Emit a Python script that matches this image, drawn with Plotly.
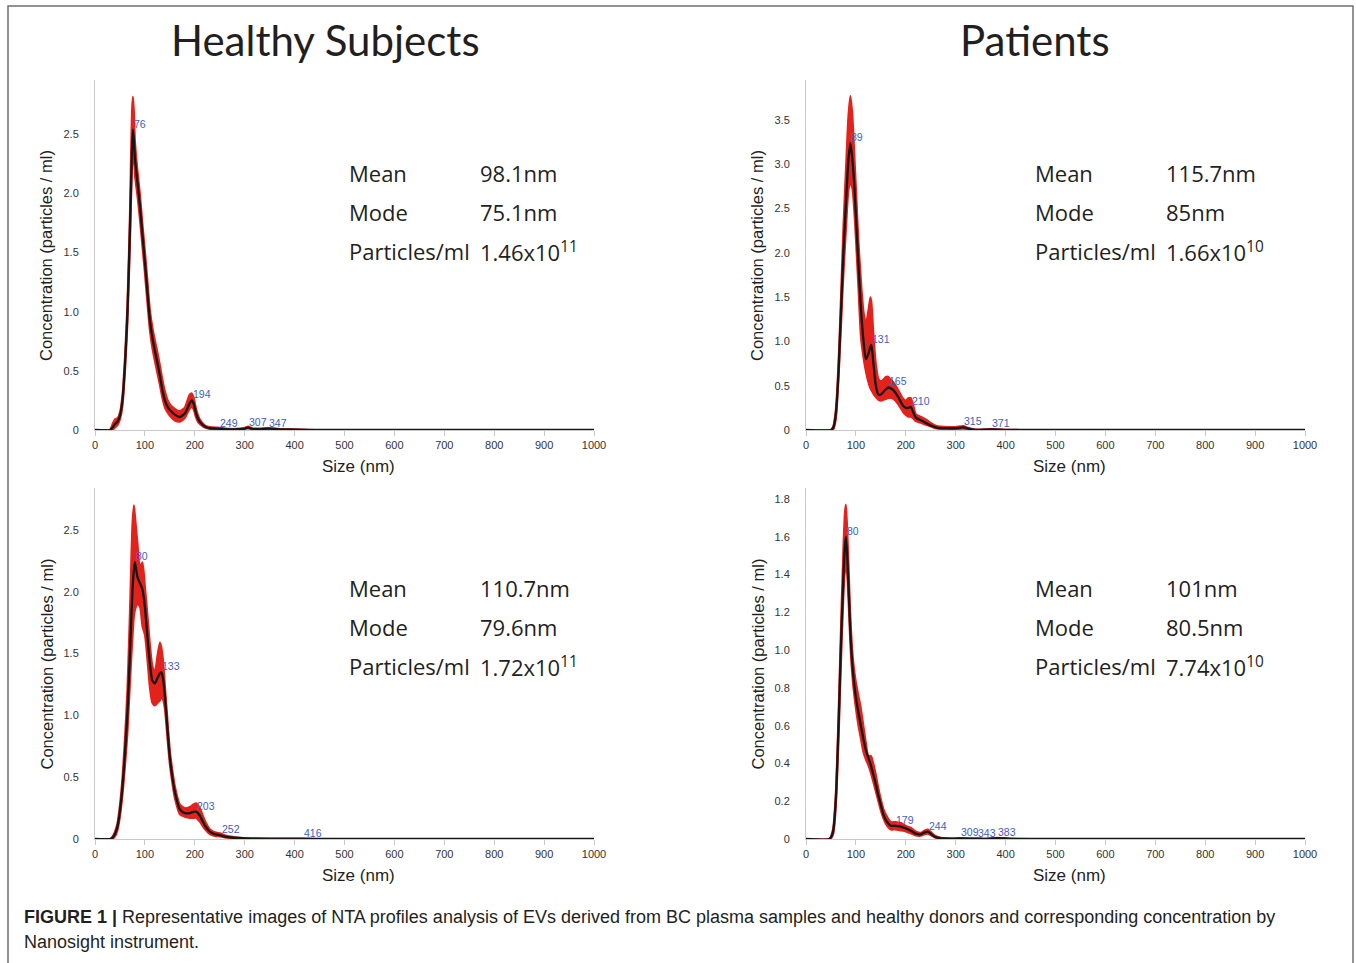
import numpy as np
import plotly.graph_objects as go

# ---------------- NTA size distributions (size in nm, concentration in a.u.) ----------------
# Healthy subject, upper panel
hs1_size = [0, 30, 35, 40, 45, 50, 55, 60, 65, 70, 74, 76, 78, 80, 85, 90, 95, 100, 105, 110,
            115, 120, 125, 130, 135, 140, 145, 150, 160, 170, 180, 186, 190, 194, 198, 202, 206,
            210, 220, 230, 250, 270, 290, 300, 307, 315, 330, 347, 370, 400, 450, 1000]
hs1_mean = [0, 0, 0.02, 0.05, 0.07, 0.12, 0.25, 0.55, 0.99, 1.69, 2.35, 2.54, 2.45, 2.30, 2.10,
            1.90, 1.65, 1.42, 1.17, 0.93, 0.78, 0.67, 0.57, 0.46, 0.34, 0.25, 0.20, 0.17, 0.13,
            0.11, 0.14, 0.19, 0.23, 0.25, 0.22, 0.15, 0.10, 0.07, 0.03, 0.015, 0.01, 0.005, 0.008,
            0.012, 0.02, 0.01, 0.008, 0.012, 0.006, 0.004, 0, 0]
hs1_upper = [0, 0, 0.05, 0.09, 0.10, 0.15, 0.30, 0.62, 1.08, 1.85, 2.70, 2.82, 2.70, 2.45, 2.20,
             2.00, 1.75, 1.52, 1.27, 1.02, 0.87, 0.76, 0.66, 0.55, 0.43, 0.33, 0.26, 0.22, 0.18,
             0.16, 0.19, 0.26, 0.30, 0.31, 0.27, 0.19, 0.13, 0.09, 0.04, 0.025, 0.02, 0.01, 0.012,
             0.018, 0.03, 0.015, 0.012, 0.016, 0.009, 0.006, 0, 0]
hs1_lower = [0, 0, 0, 0.02, 0.04, 0.09, 0.20, 0.48, 0.90, 1.55, 2.20, 2.35, 2.30, 2.15, 1.98,
             1.78, 1.55, 1.32, 1.07, 0.84, 0.69, 0.58, 0.48, 0.38, 0.27, 0.19, 0.15, 0.12, 0.08,
             0.07, 0.10, 0.15, 0.18, 0.20, 0.17, 0.11, 0.07, 0.05, 0.02, 0.008, 0.005, 0.002,
             0.004, 0.008, 0.012, 0.006, 0.005, 0.008, 0.004, 0.002, 0, 0]
hs1_peaks = [76, 194, 249, 307, 347]

# Patient, upper panel
pt1_size = [0, 50, 55, 60, 65, 70, 75, 80, 85, 89, 93, 97, 100, 105, 110, 115, 120, 125, 129,
            131, 135, 140, 145, 150, 155, 160, 165, 170, 175, 185, 195, 200, 205, 210, 215, 220,
            230, 240, 250, 260, 270, 285, 300, 315, 325, 340, 371, 400, 450, 1000]
pt1_mean = [0, 0, 0.03, 0.19, 0.64, 1.32, 2.00, 2.55, 3.05, 3.24, 3.05, 2.75, 2.42, 1.88, 1.38,
            1.02, 0.80, 0.86, 0.94, 0.96, 0.76, 0.50, 0.40, 0.40, 0.43, 0.46, 0.48, 0.47, 0.45,
            0.37, 0.27, 0.25, 0.25, 0.26, 0.20, 0.14, 0.11, 0.08, 0.05, 0.03, 0.022, 0.02, 0.02,
            0.03, 0.015, 0.002, 0.006, 0.002, 0, 0]
pt1_upper = [0, 0, 0.05, 0.25, 0.75, 1.50, 2.30, 2.95, 3.55, 3.77, 3.55, 3.10, 2.75, 2.15, 1.70,
             1.35, 1.20, 1.35, 1.50, 1.45, 1.10, 0.75, 0.58, 0.55, 0.57, 0.60, 0.60, 0.57, 0.54,
             0.45, 0.35, 0.33, 0.36, 0.36, 0.28, 0.18, 0.15, 0.12, 0.08, 0.05, 0.04, 0.035, 0.035,
             0.045, 0.025, 0.005, 0.01, 0.004, 0, 0]
pt1_lower = [0, 0, 0.01, 0.13, 0.55, 1.15, 1.75, 2.25, 2.70, 2.80, 2.72, 2.45, 2.15, 1.60, 1.05,
             0.82, 0.66, 0.54, 0.47, 0.45, 0.41, 0.37, 0.34, 0.33, 0.34, 0.35, 0.36, 0.36, 0.35,
             0.29, 0.20, 0.17, 0.15, 0.15, 0.13, 0.10, 0.08, 0.06, 0.04, 0.02, 0.012, 0.01, 0.01,
             0.015, 0.008, 0, 0.003, 0, 0, 0]
pt1_peaks = [89, 131, 165, 210, 315, 371]

# Healthy subject, lower panel
hs2_size = [0, 30, 35, 40, 45, 50, 55, 60, 65, 70, 75, 78, 80, 85, 90, 95, 100, 105, 110, 115,
            120, 125, 130, 133, 137, 140, 145, 150, 155, 160, 170, 180, 190, 197, 203, 210, 220,
            230, 240, 252, 260, 280, 300, 350, 416, 450, 1000]
hs2_mean = [0, 0, 0.01, 0.04, 0.10, 0.23, 0.42, 0.69, 1.02, 1.50, 2.00, 2.18, 2.24, 2.12, 2.07,
            2.02, 1.88, 1.64, 1.42, 1.28, 1.26, 1.30, 1.34, 1.35, 1.28, 1.16, 0.90, 0.66, 0.50,
            0.38, 0.24, 0.21, 0.21, 0.22, 0.22, 0.19, 0.11, 0.06, 0.04, 0.03, 0.02, 0.01, 0.005,
            0.002, 0.002, 0, 0]
hs2_upper = [0, 0, 0.02, 0.06, 0.13, 0.28, 0.50, 0.82, 1.22, 1.85, 2.55, 2.70, 2.62, 2.40, 2.20,
             2.24, 2.05, 1.82, 1.58, 1.40, 1.35, 1.48, 1.59, 1.55, 1.42, 1.25, 0.98, 0.72, 0.56,
             0.43, 0.28, 0.25, 0.26, 0.28, 0.29, 0.25, 0.15, 0.08, 0.055, 0.045, 0.03, 0.015,
             0.008, 0.003, 0.003, 0, 0]
hs2_lower = [0, 0, 0, 0.02, 0.07, 0.18, 0.35, 0.58, 0.85, 1.25, 1.62, 1.80, 1.85, 1.90, 1.88,
             1.72, 1.65, 1.45, 1.22, 1.10, 1.08, 1.10, 1.12, 1.15, 1.12, 1.05, 0.82, 0.60, 0.45,
             0.33, 0.20, 0.18, 0.17, 0.17, 0.17, 0.14, 0.08, 0.04, 0.025, 0.02, 0.012, 0.006,
             0.002, 0.001, 0.001, 0, 0]
hs2_peaks = [80, 133, 203, 252, 416]

# Patient, lower panel
pt2_size = [0, 47, 52, 55, 60, 65, 70, 75, 78, 80, 83, 87, 90, 95, 100, 105, 110, 115, 120, 125,
            130, 135, 140, 145, 150, 155, 160, 170, 179, 190, 200, 210, 220, 230, 238, 244, 250,
            258, 270, 300, 309, 330, 343, 360, 383, 410, 450, 1000]
pt2_mean = [0, 0, 0.02, 0.05, 0.22, 0.58, 1.02, 1.39, 1.55, 1.60, 1.48, 1.22, 1.04, 0.86, 0.75,
            0.67, 0.60, 0.53, 0.47, 0.43, 0.39, 0.34, 0.29, 0.23, 0.18, 0.13, 0.10, 0.07, 0.07,
            0.065, 0.056, 0.044, 0.028, 0.025, 0.035, 0.039, 0.028, 0.012, 0.004, 0.002, 0.003,
            0.002, 0.002, 0, 0.005, 0.001, 0, 0]
pt2_upper = [0, 0, 0.03, 0.07, 0.26, 0.65, 1.12, 1.55, 1.73, 1.77, 1.62, 1.32, 1.12, 0.93, 0.83,
             0.76, 0.69, 0.60, 0.51, 0.44, 0.44, 0.40, 0.34, 0.27, 0.21, 0.16, 0.13, 0.09, 0.09,
             0.085, 0.07, 0.06, 0.04, 0.033, 0.045, 0.05, 0.038, 0.018, 0.007, 0.003, 0.005,
             0.003, 0.003, 0.001, 0.007, 0.002, 0, 0]
pt2_lower = [0, 0, 0.01, 0.03, 0.18, 0.50, 0.92, 1.28, 1.42, 1.45, 1.38, 1.14, 0.97, 0.80, 0.69,
             0.60, 0.53, 0.46, 0.42, 0.39, 0.35, 0.30, 0.25, 0.20, 0.15, 0.11, 0.08, 0.05, 0.05,
             0.045, 0.04, 0.03, 0.018, 0.017, 0.025, 0.028, 0.02, 0.008, 0.002, 0.001, 0.001,
             0.001, 0.001, 0, 0.003, 0, 0, 0]
pt2_peaks = [80, 179, 244, 309, 343, 383]

# Summary statistics shown beside each distribution
hs1_stats = ["98.1nm", "75.1nm", "1.46x10<sup>11</sup>"]
pt1_stats = ["115.7nm", "85nm", "1.66x10<sup>10</sup>"]
hs2_stats = ["110.7nm", "79.6nm", "1.72x10<sup>11</sup>"]
pt2_stats = ["101nm", "80.5nm", "7.74x10<sup>10</sup>"]
stat_names = ["Mean", "Mode", "Particles/ml"]

# Axis ticks
x_ticks = list(range(0, 1001, 100))
hs1_yticks = [0, 0.5, 1.0, 1.5, 2.0, 2.5]
pt1_yticks = [0, 0.5, 1.0, 1.5, 2.0, 2.5, 3.0, 3.5]
hs2_yticks = [0, 0.5, 1.0, 1.5, 2.0, 2.5]
pt2_yticks = [0, 0.2, 0.4, 0.6, 0.8, 1.0, 1.2, 1.4, 1.6, 1.8]

# ---------------- layout geometry (pixels) ----------------
W, H = 1356, 963
RED = "#e3231b"
BLACK = "#161616"
BLUE = "#3f5cc6"
TEXT = "#231f20"
AXIS = "#c9c9c9"
SANS = "Liberation Sans, Arial"


def fx(px):
    return px / W


def fy(py):
    return 1 - py / H


panels = [
    # size, mean, upper, lower, peaks, stats, yticks, ymax, x-domain px, y-domain px,
    # stat-name x, stat-value x, first stat row y
    (hs1_size, hs1_mean, hs1_upper, hs1_lower, hs1_peaks, hs1_stats, hs1_yticks, 2.96,
     (95, 594), (430, 80), 347, 478, 173),
    (pt1_size, pt1_mean, pt1_upper, pt1_lower, pt1_peaks, pt1_stats, pt1_yticks, 3.952,
     (806, 1305), (430, 80), 1033, 1164, 173),
    (hs2_size, hs2_mean, hs2_upper, hs2_lower, hs2_peaks, hs2_stats, hs2_yticks, 2.84,
     (95, 594), (839, 488), 347, 478, 588),
    (pt2_size, pt2_mean, pt2_upper, pt2_lower, pt2_peaks, pt2_stats, pt2_yticks, 1.858,
     (806, 1305), (839, 488), 1033, 1164, 588),
]

fig = go.Figure()
annotations = []
layout_axes = {}


def tick_label(v):
    return "0" if v == 0 else f"{v:.1f}"


for i, (size, mean, upper, lower, peaks, stats, yticks, ymax, xd, yd,
        sx_name, sx_val, sy) in enumerate(panels, start=1):
    xa = "x" if i == 1 else f"x{i}"
    ya = "y" if i == 1 else f"y{i}"
    # error band
    fig.add_trace(go.Scatter(x=size, y=lower, mode="lines", xaxis=xa, yaxis=ya,
                             line=dict(color=RED, width=2, shape="spline", smoothing=0.6),
                             hoverinfo="skip", showlegend=False))
    fig.add_trace(go.Scatter(x=size, y=upper, mode="lines", xaxis=xa, yaxis=ya,
                             fill="tonexty", fillcolor=RED,
                             line=dict(color=RED, width=2, shape="spline", smoothing=0.6),
                             hoverinfo="skip", showlegend=False))
    # mean curve
    fig.add_trace(go.Scatter(x=size, y=mean, mode="lines", xaxis=xa, yaxis=ya,
                             line=dict(color=BLACK, width=2.3, shape="spline", smoothing=0.6),
                             showlegend=False))

    xkey = "xaxis" if i == 1 else f"xaxis{i}"
    ykey = "yaxis" if i == 1 else f"yaxis{i}"
    layout_axes[xkey] = dict(
        domain=[fx(xd[0]), fx(xd[1])], anchor=ya, range=[0, 1000], automargin=False,
        tickvals=x_ticks, ticktext=[str(t) for t in x_ticks],
        ticks="outside", ticklen=5, tickcolor=AXIS, tickwidth=1,
        showline=True, linecolor=AXIS, linewidth=1, showgrid=False, zeroline=False,
        tickfont=dict(family=SANS, size=11, color="#333333"),
        fixedrange=True,
    )
    layout_axes[ykey] = dict(
        domain=[fy(yd[0]), fy(yd[1])], anchor=xa, range=[0, ymax], automargin=False,
        tickvals=yticks, ticktext=[tick_label(v) for v in yticks],
        ticks="outside", ticklen=13, tickcolor="rgba(0,0,0,0)",
        showline=True, linecolor=AXIS, linewidth=1, showgrid=False, zeroline=False,
        tickfont=dict(family=SANS, size=11, color="#333333"),
        fixedrange=True,
    )

    # peak position labels
    for p in peaks:
        annotations.append(dict(
            x=p, y=float(np.interp(p, size, mean)), xref=xa, yref=ya,
            text=str(p), showarrow=False, xanchor="left", yanchor="bottom",
            xshift=-1, yshift=-2,
            font=dict(family=SANS, size=10.5, color=BLUE)))

    # axis titles
    annotations.append(dict(
        x=fx((xd[0] + xd[1]) / 2 + 14), y=fy(yd[0] + 36), xref="paper", yref="paper",
        text="Size (nm)", showarrow=False, xanchor="center", yanchor="middle",
        font=dict(family=SANS, size=17, color=TEXT)))
    annotations.append(dict(
        x=fx(xd[0] - 49), y=fy((yd[0] + yd[1]) / 2 + 1), xref="paper", yref="paper",
        text="Concentration (particles / ml)", showarrow=False, textangle=-90,
        xanchor="center", yanchor="middle",
        font=dict(family=SANS, size=16.5, color=TEXT)))

    # summary statistics
    for k, (name, val) in enumerate(zip(stat_names, stats)):
        yy = sy + 39 * k
        annotations.append(dict(
            x=fx(sx_name), y=fy(yy), xref="paper", yref="paper", text=name,
            showarrow=False, xanchor="left", yanchor="middle",
            font=dict(family="Open Sans", size=22, color=TEXT)))
        annotations.append(dict(
            x=fx(sx_val if k < 2 else sx_name + 131), y=fy(yy), xref="paper", yref="paper",
            text=val, showarrow=False, xanchor="left", yanchor="middle",
            font=dict(family="Open Sans", size=22, color=TEXT)))

# column headers
annotations.append(dict(x=fx(325), y=fy(40), xref="paper", yref="paper",
                        text="Healthy Subjects", showarrow=False, xanchor="center",
                        yanchor="middle", font=dict(family="Lato", size=42, color=TEXT)))
annotations.append(dict(x=fx(1035), y=fy(40), xref="paper", yref="paper",
                        text="Patients", showarrow=False, xanchor="center",
                        yanchor="middle", font=dict(family="Lato", size=42, color=TEXT)))

# figure caption
annotations.append(dict(
    x=fx(22), y=fy(917), xref="paper", yref="paper", showarrow=False,
    xanchor="left", yanchor="middle",
    text="<b>FIGURE 1 |</b> Representative images of NTA profiles analysis of EVs derived from "
         "BC plasma samples and healthy donors and corresponding concentration by",
    font=dict(family=SANS, size=18, color=TEXT)))
annotations.append(dict(
    x=fx(22), y=fy(942), xref="paper", yref="paper", showarrow=False,
    xanchor="left", yanchor="middle", text="Nanosight instrument.",
    font=dict(family=SANS, size=18, color=TEXT)))

fig.update_layout(
    width=W, height=H, autosize=False,
    margin=dict(l=0, r=0, t=0, b=0, pad=0, autoexpand=False),
    paper_bgcolor="white", plot_bgcolor="white", showlegend=False,
    annotations=annotations,
    shapes=[dict(type="rect", xref="paper", yref="paper",
                 x0=fx(8), x1=fx(1353), y0=-0.05, y1=fy(6),
                 line=dict(color="#6f6f6f", width=1.5), fillcolor="rgba(0,0,0,0)")],
    **layout_axes,
)

# page without body margins so the fixed-size figure fills the window exactly
fig.write_html(
    "out.html",
    post_script="document.body.style.margin='0';document.body.style.overflow='hidden';",
)
